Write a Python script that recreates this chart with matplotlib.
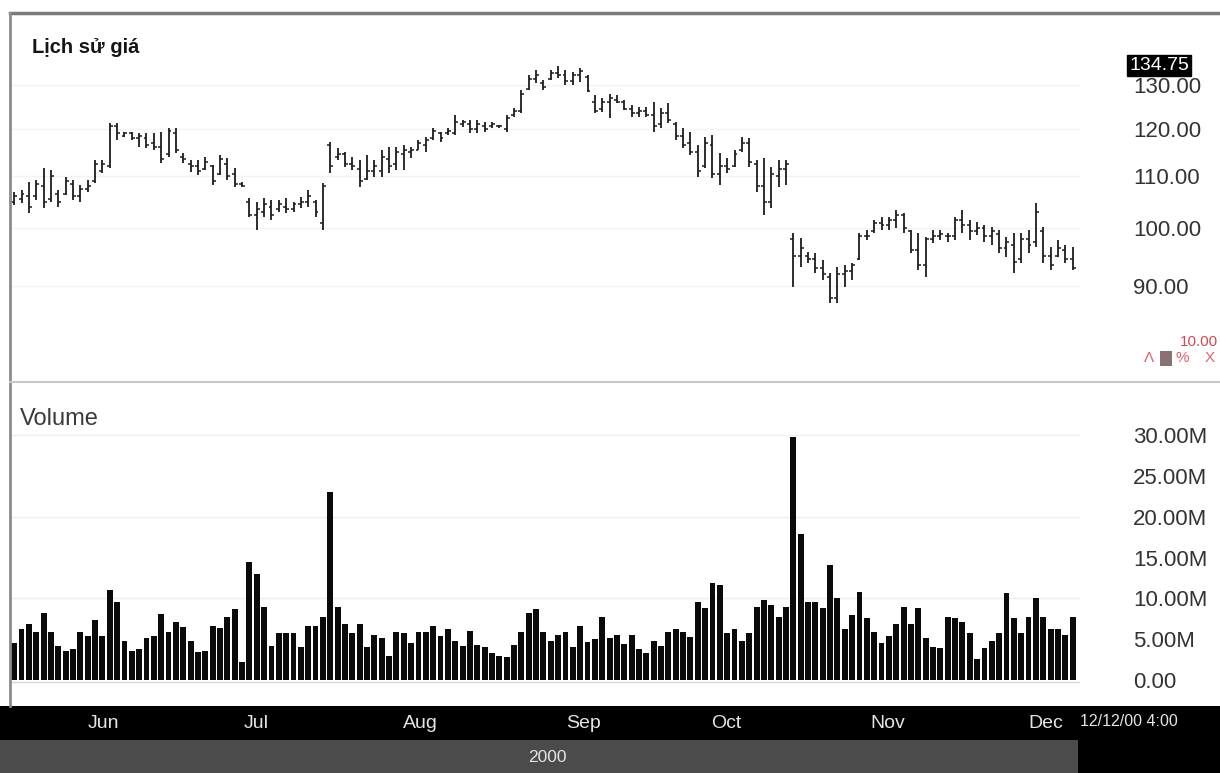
import numpy as np
import matplotlib
matplotlib.use('Agg')
import matplotlib.pyplot as plt
from matplotlib import font_manager
from matplotlib.lines import Line2D
from matplotlib.patches import Rectangle
from matplotlib.ticker import FixedLocator, FuncFormatter, NullLocator
from matplotlib.transforms import blended_transform_factory

# daily OHLC (one bar per trading day)
high = [106.8, 107.2, 108.8, 109.2, 111.6, 111.2, 107.2, 109.8, 109.2, 108.2,
        109.2, 113.3, 113.3, 121.2, 121.2, 119.3, 119.3, 119.0, 119.0, 119.0,
        119.3, 120.1, 120.1, 114.8, 113.3, 113.3, 113.9, 112.3, 114.3, 113.7,
        111.6, 108.8, 105.7, 104.9, 105.7, 105.3, 105.3, 105.7, 104.9, 105.9,
        107.2, 105.3, 108.6, 117.1, 115.8, 115.0, 113.9, 113.3, 114.3, 113.3,
        115.4, 116.0, 116.0, 116.4, 116.0, 117.5, 118.2, 120.1, 119.3, 120.1,
        123.0, 121.9, 121.9, 121.9, 121.5, 121.5, 120.8, 123.0, 124.6, 128.8,
        132.4, 133.6, 131.2, 133.6, 134.75, 133.6, 133.1, 134.1, 132.4, 127.6,
        126.9, 128.0, 127.6, 126.5, 125.3, 124.9, 124.9, 126.0, 124.6, 125.8,
        121.5, 120.1, 119.3, 116.4, 118.2, 118.6, 114.8, 113.7, 115.4, 118.2,
        118.0, 113.3, 113.7, 111.8, 113.3, 113.3, 99.1, 98.2, 95.7, 95.5,
        94.3, 92.1, 93.1, 93.4, 93.8, 99.1, 99.6, 101.5, 102.0, 102.0,
        103.4, 102.8, 99.6, 99.1, 98.4, 99.6, 99.6, 99.1, 102.0, 103.4,
        101.5, 101.1, 100.6, 100.2, 99.6, 98.4, 99.1, 99.1, 99.6, 104.7,
        100.2, 96.6, 97.8, 96.9, 96.6]
low = [104.3, 104.7, 102.8, 105.3, 103.7, 104.9, 104.0, 106.2, 105.3, 104.9,
       106.8, 108.6, 110.6, 111.6, 117.5, 118.2, 117.5, 116.0, 115.8, 115.4,
       112.7, 113.9, 114.8, 112.7, 110.8, 110.2, 111.2, 108.2, 110.2, 109.2,
       107.8, 107.8, 102.0, 99.6, 102.0, 101.5, 103.0, 102.8, 103.0, 103.7,
       104.0, 102.0, 99.6, 110.6, 113.3, 111.8, 111.2, 107.8, 109.2, 109.8,
       109.8, 110.6, 111.2, 111.2, 113.7, 115.4, 115.0, 117.5, 117.1, 118.6,
       118.6, 120.4, 119.0, 119.0, 119.3, 120.1, 120.1, 119.3, 122.6, 123.5,
       128.8, 130.5, 128.8, 131.2, 131.7, 130.0, 130.0, 130.7, 128.3, 123.5,
       123.7, 122.4, 125.8, 124.2, 122.6, 122.6, 122.6, 119.3, 120.1, 121.2,
       117.5, 115.8, 114.3, 109.8, 111.6, 109.6, 108.2, 110.6, 111.8, 115.0,
       111.8, 106.8, 102.4, 103.7, 107.8, 108.2, 89.7, 93.1, 93.8, 92.1,
       90.9, 87.1, 87.1, 89.7, 90.9, 94.3, 97.8, 99.1, 99.6, 99.6,
       100.0, 99.1, 95.5, 92.6, 91.4, 97.3, 97.8, 97.5, 97.8, 99.1,
       97.8, 98.7, 97.5, 96.9, 95.5, 94.8, 92.1, 93.8, 95.5, 96.6,
       93.8, 92.6, 94.8, 93.8, 92.6]
opn = [105.0, 105.5, 106.0, 106.0, 108.0, 105.5, 106.5, 106.5, 108.5, 106.0,
       107.5, 109.0, 111.0, 112.0, 120.5, 118.5, 119.0, 118.0, 118.0, 117.0,
       116.0, 114.5, 119.0, 114.0, 112.5, 112.0, 111.5, 112.0, 110.5, 112.5,
       110.5, 108.5, 105.0, 102.5, 103.0, 104.0, 103.5, 104.0, 103.5, 104.5,
       105.0, 105.0, 101.0, 116.5, 114.0, 114.5, 112.5, 111.5, 109.5, 111.0,
       111.0, 113.5, 112.5, 114.5, 115.0, 115.5, 116.5, 118.0, 119.0, 119.0,
       119.0, 121.0, 121.0, 120.0, 120.5, 120.5, 120.5, 120.0, 123.0, 124.0,
       129.0, 131.5, 130.5, 131.5, 133.0, 132.5, 131.0, 132.5, 132.0, 126.0,
       124.5, 126.0, 126.5, 126.0, 124.5, 123.5, 124.0, 123.0, 121.0, 123.5,
       121.0, 118.5, 117.0, 115.0, 112.0, 116.5, 110.5, 112.0, 112.0, 115.5,
       117.0, 112.5, 108.0, 105.0, 110.0, 111.5, 98.0, 95.0, 95.0, 94.5,
       93.0, 91.5, 88.0, 92.0, 92.5, 94.5, 98.5, 99.5, 101.0, 100.5,
       101.5, 102.5, 99.5, 96.0, 93.5, 98.0, 98.5, 98.5, 98.5, 101.5,
       100.5, 99.5, 100.0, 98.5, 99.0, 96.5, 97.0, 94.5, 98.0, 97.5,
       99.5, 95.0, 95.0, 96.0, 94.5]
close = [106.0, 106.5, 104.0, 108.5, 105.0, 110.0, 105.0, 109.0, 106.0, 107.5,
         108.0, 112.5, 112.5, 120.5, 119.0, 119.0, 118.0, 118.5, 116.5, 116.0,
         113.5, 119.5, 115.5, 113.5, 112.0, 111.0, 113.0, 109.0, 113.5, 110.0,
         108.5, 108.0, 102.5, 103.5, 104.5, 102.5, 104.5, 103.5, 104.5, 105.0,
         106.0, 103.0, 108.0, 112.0, 114.5, 112.5, 112.0, 109.0, 111.0, 112.0,
         114.0, 112.0, 115.0, 115.5, 115.5, 117.0, 117.5, 119.5, 118.0, 119.5,
         121.5, 121.5, 120.0, 121.0, 120.0, 121.0, 120.5, 122.5, 124.0, 128.0,
         131.5, 132.5, 129.5, 133.0, 132.5, 131.0, 132.5, 133.5, 128.5, 124.0,
         126.0, 127.0, 126.0, 124.5, 123.5, 124.0, 123.0, 120.5, 123.5, 122.0,
         118.5, 116.5, 115.0, 111.0, 117.0, 110.5, 112.0, 111.5, 114.5, 117.0,
         113.0, 108.0, 105.0, 110.5, 111.5, 112.5, 95.0, 96.5, 94.5, 93.0,
         92.0, 88.0, 92.0, 92.5, 93.5, 98.5, 98.5, 101.0, 100.5, 101.5,
         102.5, 100.0, 96.0, 93.5, 98.0, 98.5, 99.0, 98.5, 101.5, 100.5,
         99.5, 100.0, 98.5, 99.5, 96.5, 97.5, 94.0, 98.0, 97.0, 103.0,
         95.0, 93.5, 96.5, 94.5, 93.0]
# volume in millions of shares
volume_m = [4.5, 6.3, 6.9, 5.9, 8.2, 5.9, 4.2, 3.6, 3.8, 5.9,
            5.4, 7.3, 5.4, 11.0, 9.5, 4.8, 3.6, 3.8, 5.2, 5.4,
            8.1, 5.9, 7.1, 6.5, 4.8, 3.4, 3.6, 6.6, 6.4, 7.7,
            8.7, 2.2, 14.5, 13.0, 9.0, 4.2, 5.7, 5.7, 5.7, 4.0,
            6.6, 6.6, 7.7, 23.0, 9.0, 6.9, 5.7, 6.9, 4.0, 5.5,
            5.1, 2.9, 5.9, 5.7, 4.5, 5.9, 5.9, 6.6, 5.4, 6.2,
            4.8, 4.2, 6.0, 4.3, 4.1, 3.3, 2.9, 2.8, 4.3, 5.9,
            8.2, 8.7, 5.9, 4.8, 5.5, 5.9, 4.0, 6.6, 4.7, 5.0,
            7.7, 5.1, 5.5, 4.4, 5.5, 3.8, 3.3, 4.8, 4.2, 5.9,
            6.2, 5.9, 5.3, 9.6, 8.8, 11.9, 11.6, 5.7, 6.2, 4.8,
            5.7, 9.0, 9.8, 9.2, 7.7, 9.0, 29.8, 17.9, 9.5, 9.5,
            8.8, 14.1, 10.1, 6.3, 8.0, 10.8, 7.6, 5.9, 4.5, 5.4,
            6.9, 9.0, 6.8, 8.8, 5.2, 4.1, 3.9, 7.7, 7.6, 7.1,
            5.7, 2.6, 3.9, 4.8, 5.7, 10.7, 7.6, 5.7, 7.7, 10.0,
            7.7, 6.2, 6.2, 5.5, 7.7]

price_ticks = [90, 100, 110, 120, 130]
volume_ticks = [0, 5, 10, 15, 20, 25, 30]
volume_grid = [10, 20, 30]
months = ['Jun', 'Jul', 'Aug', 'Sep', 'Oct', 'Nov', 'Dec']
month_pos = [12.1, 32.9, 55.3, 77.4, 96.9, 118.9, 140.3]
peak_label = 134.75
year_label = '2000'
stamp = '12/12/00 4:00'

plt.rcParams['font.family'] = ['Liberation Sans', 'DejaVu Sans']
names = {f.name for f in font_manager.fontManager.ttflist}
narrow = 'Liberation Sans Narrow' if 'Liberation Sans Narrow' in names else 'Liberation Sans'

W, H = 1220, 773
fig = plt.figure(figsize=(W / 100, H / 100), dpi=100)
fig.patch.set_facecolor('white')

def box(x0, y0, x1, y1):
    return [x0 / W, 1 - y1 / H, (x1 - x0) / W, (y1 - y0) / H]

ax_p = fig.add_axes(box(10, 13, 1080, 382))
ax_v = fig.add_axes(box(10, 383, 1080, 706))
x = np.arange(len(high))
xlim = (-0.57, 145.0)

# price panel (log scale)
ax_p.set_yscale('log')
ax_p.set_ylim(75.4, 148.4)
ax_p.set_xlim(*xlim)
for t in price_ticks:
    ax_p.axhline(t, color='#f3f3f3', lw=1, zorder=0)
ax_p.vlines(x, low, high, color='#1c1c1c', lw=1.3)
ax_p.hlines(opn, x - 0.4, x, color='#1c1c1c', lw=1.1)
ax_p.hlines(close, x, x + 0.4, color='#1c1c1c', lw=1.1)
ax_p.yaxis.tick_right()
ax_p.yaxis.set_major_locator(FixedLocator(price_ticks))
ax_p.yaxis.set_minor_locator(NullLocator())
ax_p.yaxis.set_major_formatter(FuncFormatter(lambda v, p: f'{v:.2f}'))
ax_p.tick_params(axis='y', length=0, pad=38, labelsize=16, labelcolor='#333333')
ax_p.set_xticks([])
for s in ax_p.spines.values():
    s.set_visible(False)
ax_p.text(0.021, 0.907, 'Lịch sử giá', transform=ax_p.transAxes, fontsize=14.5,
          fontweight='bold', color='#151515', va='center')
tr = blended_transform_factory(ax_p.transAxes, ax_p.transData)
ax_p.text(1.046, peak_label, f'{peak_label:.2f}', transform=tr, fontsize=14,
          color='white', va='center', ha='left', zorder=5,
          bbox=dict(boxstyle='square,pad=0.12', fc='black', ec='black'))

# volume panel
ax_v.set_xlim(*xlim)
ax_v.set_ylim(-3.18, 36.37)
for g in volume_grid:
    ax_v.axhline(g, color='#eeeeee', lw=1, zorder=0)
ax_v.bar(x, volume_m, width=0.8, color='#0a0a0a', zorder=2)
ax_v.axhline(-0.2, color='#d8d8d8', lw=1, zorder=1)
ax_v.yaxis.tick_right()
ax_v.yaxis.set_major_locator(FixedLocator(volume_ticks))
ax_v.yaxis.set_major_formatter(FuncFormatter(lambda v, p: '0.00' if v == 0 else f'{v:.2f}M'))
ax_v.tick_params(axis='y', length=0, pad=38, labelsize=16, labelcolor='#333333')
ax_v.set_xticks([])
for s in ax_v.spines.values():
    s.set_visible(False)
ax_v.text(0.009, 0.89, 'Volume', transform=ax_v.transAxes, fontsize=17,
          color='#3a3a3a', va='center')

# frame lines
fig.add_artist(Line2D([10 / W, 1], [1 - 13 / H] * 2, color='#7a7a7a', lw=2.5))
fig.add_artist(Line2D([10 / W] * 2, [1 - 13 / H, 1 - 706 / H], color='#8c8c8c', lw=2))
fig.add_artist(Line2D([10 / W, 1], [1 - 382.5 / H] * 2, color='#c8c8c8', lw=1.5))

# small widgets near the separator
fig.text(1218 / W, 1 - 342 / H, '10.00', fontsize=11, color='#d04a55', ha='right', va='center')
fig.text(1144 / W, 1 - 358 / H, 'Λ', fontsize=11, color='#e06070', ha='left', va='center')
fig.patches.append(Rectangle((1160 / W, 1 - 366 / H), 12 / W, 15 / H,
                             transform=fig.transFigure, fc='#8a7070', ec='none'))
fig.text(1176 / W, 1 - 358 / H, '%', fontsize=11, color='#e06070', ha='left', va='center')
fig.text(1205 / W, 1 - 358 / H, 'X', fontsize=11, color='#e06070', ha='left', va='center')

# date strips
fig.patches.append(Rectangle((0, 1 - 740 / H), 1, 34 / H, transform=fig.transFigure,
                             fc='black', ec='none'))
fig.patches.append(Rectangle((0, 0), 1078 / W, 1 - 740 / H, transform=fig.transFigure,
                             fc='#4b4b4b', ec='none'))
fig.patches.append(Rectangle((1078 / W, 0), 1 - 1078 / W, 1 - 740 / H,
                             transform=fig.transFigure, fc='black', ec='none'))
mt = blended_transform_factory(ax_v.transData, fig.transFigure)
for m, pos in zip(months, month_pos):
    fig.text(pos, 1 - 723 / H, m, transform=mt, fontsize=14, color='#e4e4e4',
             ha='center', va='center', family=narrow)
fig.text(1080 / W, 1 - 721 / H, stamp, fontsize=11.5, color='#e4e4e4',
         ha='left', va='center', family=narrow)
fig.text(547 / W, 1 - 758 / H, year_label, fontsize=12.5, color='#e4e4e4',
         ha='center', va='center', family=narrow)

fig.savefig('out.png', dpi=100)
